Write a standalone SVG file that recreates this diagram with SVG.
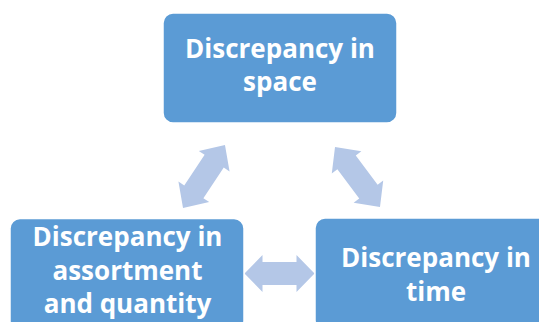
<svg xmlns="http://www.w3.org/2000/svg" width="539" height="322" viewBox="0 0 539 322">
  <style>
    .box { fill: #5B9BD5; stroke: #FFFFFF; stroke-width: 1.5; }
    .lbl { font-family: "Open Sans", "Liberation Sans", sans-serif; font-weight: bold; font-size: 26px; fill: #FFFFFF; text-anchor: middle; }
    .arr { fill: #B4C7E7; }
  </style>
  <defs>
    <path id="dbl" d="M -35 0 L -17 -18.5 L -17 -11.5 L 17 -11.5 L 17 -18.5 L 35 0 L 17 18.5 L 17 11.5 L -17 11.5 L -17 18.5 Z"/>
  </defs>
  <rect x="0" y="0" width="539" height="322" fill="#FFFFFF"/>
  <g id="connectors">
    <use href="#dbl" class="arr" transform="translate(279.5 273.5)"/>
    <use href="#dbl" class="arr" transform="translate(204 176.5) rotate(-56.3) scale(1.08 1)"/>
    <use href="#dbl" class="arr" transform="translate(357.5 177) rotate(53.1) scale(1.07 1)"/>
  </g>
  <g id="node-space">
    <rect class="box" x="163" y="13" width="234" height="110" rx="10"/>
    <text class="lbl" x="280" y="58">Discrepancy in</text>
    <text class="lbl" x="280" y="91">space</text>
  </g>
  <g id="node-assortment">
    <rect class="box" x="10" y="218.5" width="234" height="112" rx="10"/>
    <text class="lbl" x="127.5" y="246">Discrepancy in</text>
    <text class="lbl" x="127.5" y="280">assortment</text>
    <text class="lbl" x="127.5" y="313">and quantity</text>
  </g>
  <g id="node-time">
    <rect class="box" x="315" y="218" width="234" height="112" rx="10"/>
    <text class="lbl" x="436" y="267">Discrepancy in</text>
    <text class="lbl" x="436" y="301">time</text>
  </g>
</svg>
